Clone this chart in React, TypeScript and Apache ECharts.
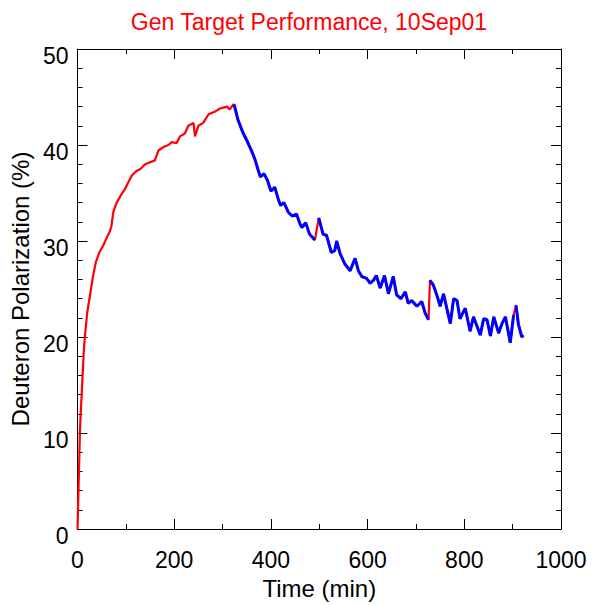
import React, { useEffect, useRef } from "react";
import * as echarts from "echarts";

const titleText = "Gen Target Performance, 10Sep01";
const xName = "Time (min)";
const yName = "Deuteron Polarization (%)";

// Build-up (red) data: time (min), polarization (%)
const redTime = [0, 2, 4, 5, 7, 8.7, 11, 13, 15.5, 20, 26, 32, 38, 45, 53, 60, 66, 70, 74, 81, 90, 98, 105, 112, 122, 130, 140, 150, 160, 167, 178, 188, 195, 205, 212, 222, 229, 240, 243, 250, 260, 271, 285, 295, 309, 315, 322];
const redPol = [0, 4, 8, 10.2, 12.5, 14, 16.5, 18.5, 20.2, 22.5, 24.4, 26.3, 27.8, 28.8, 29.5, 30.3, 30.9, 31.5, 33, 34, 34.8, 35.4, 36.1, 36.8, 37.3, 37.5, 38.0, 38.2, 38.4, 39.4, 39.8, 40.0, 40.3, 40.2, 40.9, 41.2, 42, 42.3, 40.9, 42, 42.3, 43.2, 43.5, 43.8, 44, 43.7, 44.2];

// Beam-on (blue) data: null polarization breaks the line
const blueTime = [324, 332, 342, 349, 360, 367, 373, 378, 386, 393, 400, 408, 415, 420, 427, 436, 444, 453, 460, 464, 472, 480, 491, 495, 499, 508, 515, 525, 532, 536, 543, 553, 564, 574, 581, 588, 598, 605, 612, 618, 626, 635, 643, 653, 660, 669, 678, 684, 691, 702, 712, 719, 726, 727, 729, 736, 743, 750, 757, 771, 778, 785, 791, 802, 812, 819, 833, 840, 847, 854, 861, 871, 878, 885, 895, 902, 904, 907, 912, 919, 922];
const bluePol = [44.2, 42.6, 41.3, 40.6, 39.4, 38.5, 37.5, 36.7, 37.0, 36.3, 35.2, 35.6, 34.4, 33.7, 34.0, 33.0, 32.6, 32.8, 31.8, 31.4, 31.9, 30.7, 30.1, null, 32.4, 30.7, 30.6, 28.8, 29.0, 30.0, 28.7, 27.6, 26.9, 28.2, 26.9, 26.3, 26.1, 25.6, 25.9, 26.4, 25.1, 26.4, 24.5, 26.3, 24.4, 24.0, 24.7, 23.5, 23.8, 23.2, 23.7, 22.5, 21.8, null, 25.9, 25.4, 24.4, 23.2, 24.5, 21.4, 24.0, 23.8, 21.9, 23.0, 20.6, 22.1, 20.2, 21.9, 21.8, 20.1, 22.1, 20.4, 21.4, 22.1, 19.4, 22.3, null, 23.3, 21.3, 20.0, 20.2];

const xTicks = { min: 0, max: 1000, interval: 200 };
const yTicks = { min: 0, max: 50, interval: 10 };

export default function App() {
  const ref = useRef<HTMLDivElement>(null);
  useEffect(() => {
    if (!ref.current) return;
    const chart = echarts.init(ref.current, null, { renderer: "svg" });
    const redData: [number, number][] = redTime.map((t, i) => [t, redPol[i]]);
    blueTime.forEach((t, i) => {
      if (bluePol[i] !== null) redData.push([t, bluePol[i] as number]);
    });
    const blueData = blueTime.map((t, i) => [t, bluePol[i] === null ? "-" : bluePol[i]]);
    const font = "'Liberation Sans', Arial, Helvetica, sans-serif";
    const baseX = {
      type: "value" as const,
      min: xTicks.min,
      max: xTicks.max,
      interval: xTicks.interval,
      axisLine: { show: true, onZero: false, lineStyle: { color: "#000", width: 1 } },
      axisTick: { show: true, inside: true, length: 10, lineStyle: { color: "#000" } },
      minorTick: { show: true, splitNumber: 2, length: 5, lineStyle: { color: "#000" } },
      splitLine: { show: false },
      minorSplitLine: { show: false },
    };
    const baseY = {
      type: "value" as const,
      min: yTicks.min,
      max: yTicks.max,
      interval: yTicks.interval,
      axisLine: { show: true, onZero: false, lineStyle: { color: "#000", width: 1 } },
      axisTick: { show: true, inside: true, length: 10, lineStyle: { color: "#000" } },
      minorTick: { show: true, splitNumber: 5, length: 5, lineStyle: { color: "#000" } },
      splitLine: { show: false },
      minorSplitLine: { show: false },
    };
    chart.setOption({
      animation: false,
      backgroundColor: "#fff",
      title: {
        text: titleText,
        left: 304,
        top: 5,
        textAlign: "center",
        textStyle: { color: "#ff0000", fontSize: 23, fontWeight: "normal", fontFamily: font },
      },
      grid: { left: 77.5, right: 31, top: 49, bottom: 73, containLabel: false },
      xAxis: [
        {
          ...baseX,
          position: "bottom",
          name: xName,
          nameLocation: "middle",
          nameGap: 47,
          nameTextStyle: { fontSize: 24, color: "#000", fontFamily: font },
          axisLabel: { fontSize: 23, color: "#000", margin: 19, fontFamily: font, formatter: (v: number) => String(v) },
        },
        {
          ...baseX,
          position: "top",
          axisLabel: { show: false },
        },
      ],
      yAxis: [
        {
          ...baseY,
          position: "left",
          name: yName,
          nameLocation: "middle",
          nameGap: 42,
          nameTextStyle: { fontSize: 24, color: "#000", fontFamily: font },
          axisLabel: { fontSize: 23, color: "#000", margin: 9, fontFamily: font, verticalAlign: "top", lineHeight: 14 },
        },
        {
          ...baseY,
          position: "right",
          axisLabel: { show: false },
        },
      ],
      series: [
        {
          type: "line",
          data: redData,
          showSymbol: false,
          lineStyle: { color: "#ff0000", width: 2.2 },
          itemStyle: { color: "#ff0000" },
          z: 2,
        },
        {
          type: "line",
          data: blueData,
          showSymbol: false,
          connectNulls: false,
          lineStyle: { color: "#0000ff", width: 3 },
          itemStyle: { color: "#0000ff" },
          z: 3,
        },
      ],
    });
    return () => chart.dispose();
  }, []);
  return <div ref={ref} style={{ width: 592, height: 605, position: "absolute", left: 0, top: 0 }} />;
}
